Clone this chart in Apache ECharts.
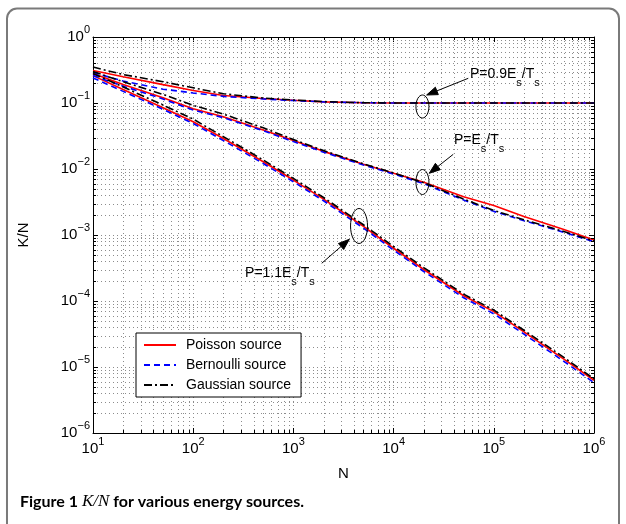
<!DOCTYPE html>
<html><head><meta charset="utf-8">
<script src="https://cdn.jsdelivr.net/npm/echarts@6/dist/echarts.min.js"></script>
<style>html,body{margin:0;padding:0;background:#fff}#c{width:626px;height:524px}</style>
</head><body><div id="c"></div>
<script>
// ---- data ----
const N = [10, 20, 50, 100, 200, 500, 1000, 2000, 5000, 1e4, 2e4, 5e4, 1e5, 2e5, 5e5, 1e6];
// P = 0.9 Es/Ts
const poisson09   = [0.31, 0.25, 0.19, 0.155, 0.13, 0.117, 0.110, 0.104, 0.101, 0.100, 0.100, 0.100, 0.100, 0.100, 0.100, 0.100];
const bernoulli09 = [0.29, 0.215, 0.162, 0.142, 0.126, 0.115, 0.109, 0.104, 0.101, 0.100, 0.100, 0.100, 0.100, 0.100, 0.100, 0.100];
const gaussian09  = [0.35, 0.27, 0.21, 0.17, 0.138, 0.119, 0.111, 0.105, 0.101, 0.100, 0.100, 0.100, 0.100, 0.100, 0.100, 0.100];
// P = Es/Ts
const poisson10   = [0.28, 0.19, 0.12, 0.082, 0.062, 0.039, 0.027, 0.0185, 0.0118, 0.0086, 0.0063, 0.0038, 0.0028, 0.0019, 0.00121, 0.00084];
const bernoulli10 = [0.26, 0.18, 0.115, 0.078, 0.060, 0.038, 0.026, 0.018, 0.0115, 0.0084, 0.0060, 0.0034, 0.00228, 0.00165, 0.0011, 0.00079];
const gaussian10  = [0.30, 0.21, 0.135, 0.092, 0.068, 0.042, 0.028, 0.019, 0.0120, 0.0087, 0.0062, 0.0035, 0.00235, 0.0017, 0.00113, 0.00081];
// P = 1.1 Es/Ts
const poisson11   = [0.26, 0.16, 0.085, 0.052, 0.029, 0.0129, 0.0068, 0.0035, 0.00135, 6.3e-4, 3.0e-4, 1.2e-4, 6.9e-5, 3.4e-5, 1.32e-5, 6.3e-6];
const bernoulli11 = [0.24, 0.15, 0.080, 0.049, 0.027, 0.0121, 0.0064, 0.0033, 0.00127, 5.9e-4, 2.8e-4, 1.12e-4, 6.4e-5, 3.15e-5, 1.22e-5, 5.8e-6];
const gaussian11  = [0.28, 0.175, 0.093, 0.057, 0.031, 0.0137, 0.0072, 0.0037, 0.00143, 6.7e-4, 3.2e-4, 1.27e-4, 7.3e-5, 3.6e-5, 1.4e-5, 6.6e-6];

const legendNames = ['Poisson source', 'Bernoulli source', 'Gaussian source'];
const xRange = [10, 1e6];
const yRange = [1e-6, 1];
const annotations = [
  {main: ['P=0.9E', '/T'], anchor: [1.94e4, 0.0885], rx: 6.5, ry: 11.5, text: [47.5, -32.5], from: [45.8, -28.2], tip: [4.2, -11.5]},
  {main: ['P=E', '/T'],    anchor: [1.94e4, 0.00635], rx: 6.5, ry: 12.5, text: [31.5, -42], from: [30.8, -27.7], tip: [6.8, -8.7]},
  {main: ['P=1.1E', '/T'], anchor: [4.52e3, 1.37e-3], rx: 8.5, ry: 17.5, text: [-114, 46.7], from: [-37.3, 37.3], tip: [-9.7, 13.3]}
];
const captionParts = ['Figure 1 ', 'K/N', ' for various energy sources.'];

// ---- chart ----
const FONT = '"Liberation Sans", Arial, sans-serif';
const chart = echarts.init(document.getElementById('c'), null, {renderer: 'canvas'});

function powLabel(v) {
  const e = Math.round(Math.log10(v));
  const s = e < 0 ? '\u2212' + (-e) : '' + e;
  return '{b|10}{s|' + s + '}';
}
const tickRich = {
  b: {fontSize: 15, fontFamily: FONT, color: '#000'},
  s: {fontSize: 11, fontFamily: FONT, color: '#000', padding: [0, 0, 14, 0]}
};
const axisCommon = {
  type: 'log', logBase: 10,
  axisLine: {lineStyle: {color: '#000', width: 1}},
  axisTick: {inside: true, length: 5, lineStyle: {color: '#000'}},
};
const gridDot = {type: [1, 3], color: '#8c8c8c', width: 1};

const pairs = arr => N.map((n, i) => [n, arr[i]]);
const styles = {
  'Poisson source':   {color: '#ff0000', type: 'solid'},
  'Bernoulli source': {color: '#0000ff', type: [6, 4]},
  'Gaussian source':  {color: '#000000', type: [8, 3, 2, 3]}
};
const groups = [
  [poisson09, bernoulli09, gaussian09],
  [poisson10, bernoulli10, gaussian10],
  [poisson11, bernoulli11, gaussian11]
];
const series = [];
[0, 1, 2].forEach(k => {       // draw order: red, blue, black
  groups.forEach(g => {
    const name = legendNames[k];
    series.push({
      name, type: 'line', data: pairs(g[k]), symbol: 'none', symbolSize: 0, showSymbol: false,
      smooth: false, z: 3 + k,
      lineStyle: {color: styles[name].color, type: styles[name].type, width: 1.6},
      itemStyle: {color: styles[name].color},
      emphasis: {disabled: true}, animation: false
    });
  });
});

chart.setOption({
  animation: false,
  backgroundColor: '#fff',
  grid: {left: 93, right: 32, top: 37, bottom: 91, containLabel: false},
  xAxis: [
    Object.assign({}, axisCommon, {
      position: 'bottom', min: xRange[0], max: xRange[1],
      axisLabel: {formatter: powLabel, rich: tickRich, margin: 3},
      splitLine: {show: true, lineStyle: gridDot},
      name: 'N', nameLocation: 'middle', nameGap: 33,
      nameTextStyle: {fontSize: 15, fontFamily: FONT, color: '#000'}
    }),
    Object.assign({}, axisCommon, {
      position: 'top', min: xRange[0], max: xRange[1],
      axisLabel: {show: false}, splitLine: {show: false}
    })
  ],
  yAxis: [
    Object.assign({}, axisCommon, {
      position: 'left', min: yRange[0], max: yRange[1],
      axisLabel: {formatter: powLabel, rich: tickRich, margin: 3},
      splitLine: {show: true, lineStyle: gridDot},
      name: 'K/N', nameLocation: 'middle', nameGap: 62, nameRotate: 90,
      nameTextStyle: {fontSize: 15, fontFamily: FONT, color: '#000'}
    }),
    Object.assign({}, axisCommon, {
      position: 'right', min: yRange[0], max: yRange[1],
      axisLabel: {show: false}, splitLine: {show: false}
    })
  ],
  legend: {
    data: legendNames, orient: 'vertical', left: 136, top: 333,
    backgroundColor: '#fff', borderColor: '#000', borderWidth: 1, borderRadius: 0,
    padding: [5, 10, 5, 7], itemWidth: 32, itemHeight: 12, itemGap: 6,
    itemStyle: {opacity: 0, borderWidth: 0},
    textStyle: {fontSize: 14, fontFamily: FONT, color: '#000', padding: [0, 0, 0, 5]},
    selectedMode: false
  },
  series
});

// ---- minor grid, minor ticks, annotations, caption, frame ----
function build() {
  const px = v => chart.convertToPixel({xAxisIndex: 0}, v);
  const py = v => chart.convertToPixel({yAxisIndex: 0}, v);
  const xL = px(xRange[0]), xR = px(xRange[1]), yT = py(yRange[1]), yB = py(yRange[0]);
  const els = [];
  const dot = {stroke: '#8c8c8c', lineWidth: 1, lineDash: [1, 3], fill: null};
  const tick = {stroke: '#000', lineWidth: 1};
  const minorX = [], minorY = [];
  for (let e = Math.log10(xRange[0]); e < Math.log10(xRange[1]); e++)
    for (let m = 2; m <= 9; m++) minorX.push(m * Math.pow(10, e));
  for (let e = Math.log10(yRange[0]); e < Math.log10(yRange[1]); e++)
    for (let m = 2; m <= 9; m++) minorY.push(m * Math.pow(10, e));
  minorX.forEach(v => {
    const x = Math.round(px(v)) + 0.5;
    els.push({type: 'line', silent: true, z: 1, shape: {x1: x, y1: yT, x2: x, y2: yB}, style: dot});
    els.push({type: 'line', silent: true, z: 10, shape: {x1: x, y1: yB, x2: x, y2: yB - 3}, style: tick});
    els.push({type: 'line', silent: true, z: 10, shape: {x1: x, y1: yT, x2: x, y2: yT + 3}, style: tick});
  });
  minorY.forEach(v => {
    const y = Math.round(py(v)) + 0.5;
    els.push({type: 'line', silent: true, z: 1, shape: {x1: xL, y1: y, x2: xR, y2: y}, style: dot});
    els.push({type: 'line', silent: true, z: 10, shape: {x1: xL, y1: y, x2: xL + 3, y2: y}, style: tick});
    els.push({type: 'line', silent: true, z: 10, shape: {x1: xR, y1: y, x2: xR - 3, y2: y}, style: tick});
  });

  annotations.forEach(a => {
    const cx = px(a.anchor[0]), cy = py(a.anchor[1]);
    els.push({type: 'ellipse', silent: true, z: 20, shape: {cx, cy, rx: a.rx, ry: a.ry},
      style: {fill: null, stroke: '#000', lineWidth: 1}});
    const x1 = cx + a.from[0], y1 = cy + a.from[1], x2 = cx + a.tip[0], y2 = cy + a.tip[1];
    const ang = Math.atan2(y2 - y1, x2 - x1), L = 11, W = 4;
    const bx = x2 - L * Math.cos(ang), by = y2 - L * Math.sin(ang);
    els.push({type: 'line', silent: true, z: 20, shape: {x1, y1, x2: bx, y2: by}, style: {stroke: '#000', lineWidth: 1}});
    els.push({type: 'polygon', silent: true, z: 20, shape: {points: [
      [x2, y2],
      [bx + W * Math.sin(ang), by - W * Math.cos(ang)],
      [bx - W * Math.sin(ang), by + W * Math.cos(ang)]
    ]}, style: {fill: '#000', stroke: '#000', lineWidth: 1}});
    els.push({type: 'text', silent: true, z: 20, x: cx + a.text[0], y: cy + a.text[1],
      style: {
        text: '{m|' + a.main[0] + '}{u|s}{m|' + a.main[1] + '}{u|s}',
        align: 'left', verticalAlign: 'middle',
        rich: {
          m: {fontSize: 14, fontFamily: FONT, fill: '#000'},
          u: {fontSize: 11, fontFamily: FONT, fill: '#000', padding: [18, 0, 0, 0]}
        }
      }});
  });

  els.push({type: 'text', silent: true, z: 20, x: 20, y: 502,
    style: {
      text: '{b|' + captionParts[0] + '}{i|' + captionParts[1] + '}{b|' + captionParts[2] + '}',
      align: 'left', verticalAlign: 'middle',
      rich: {
        b: {fontSize: 16, fontFamily: 'Lato, "Liberation Sans", sans-serif', fontWeight: 'bold', fill: '#000'},
        i: {fontSize: 17, fontFamily: '"Liberation Serif", serif', fontStyle: 'italic', fill: '#000'}
      }
    }});

  els.push({type: 'rect', silent: true, z: 0, shape: {x: 7, y: 8.5, width: 612, height: 600, r: 10},
    style: {fill: null, stroke: '#7a7a7a', lineWidth: 2}});

  chart.setOption({graphic: {elements: els}});
}
build();
</script>
</body></html>
